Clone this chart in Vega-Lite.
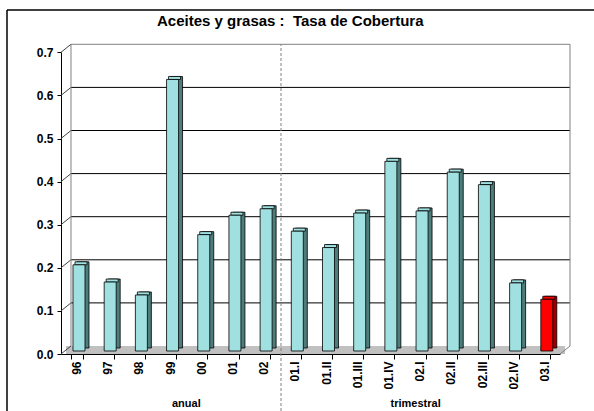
{
  "$schema": "https://vega.github.io/schema/vega-lite/v6.json",
  "autosize": {"type": "none"},
  "width": 587,
  "height": 401,
  "padding": {"left": 7, "top": 10, "right": 0, "bottom": 0},
  "background": "#ffffff",
  "config": {
    "view": {"stroke": null},
    "font": "Liberation Sans",
    "axis": {
      "labelFont": "Liberation Sans",
      "labelFontWeight": "bold",
      "labelFontSize": 12,
      "labelColor": "#000000",
      "domainColor": "#000000",
      "tickColor": "#000000",
      "domainWidth": 1,
      "tickWidth": 1,
      "grid": false,
      "title": null
    }
  },
  "title": {
    "text": "Aceites y grasas :\u00a0 Tasa de Cobertura",
    "anchor": "start",
    "frame": "group",
    "offset": -32,
    "baseline": "alphabetic",
    "dx": 150,
    "font": "Liberation Sans",
    "fontSize": 15,
    "fontWeight": "bold",
    "color": "#000000"
  },
  "datasets": {
    "bars": [
      {"cat": "96", "v": 0.20},
      {"cat": "97", "v": 0.16},
      {"cat": "98", "v": 0.13},
      {"cat": "99", "v": 0.63},
      {"cat": "00", "v": 0.27},
      {"cat": "01", "v": 0.315},
      {"cat": "02", "v": 0.33},
      {"cat": "01.I", "v": 0.278},
      {"cat": "01.II", "v": 0.24},
      {"cat": "01.III", "v": 0.32},
      {"cat": "01.IV", "v": 0.44},
      {"cat": "02.I", "v": 0.325},
      {"cat": "02.II", "v": 0.415},
      {"cat": "02.III", "v": 0.386},
      {"cat": "02.IV", "v": 0.158},
      {"cat": "03.I", "v": 0.12}
    ],
    "grid": [
      {"v": 0.1}, {"v": 0.2}, {"v": 0.3}, {"v": 0.4}, {"v": 0.5}, {"v": 0.6}
    ],
    "walls": [
      {"v": 0.0}, {"v": 0.1}, {"v": 0.2}, {"v": 0.3}, {"v": 0.4}, {"v": 0.5}, {"v": 0.6}, {"v": 0.7}
    ],
    "floor": [{"v": 0, "a": "96", "b": "03.I"}],
    "top": [{"v": 0.7, "a": "96", "b": "03.I"}],
    "span": [{"v": 0, "v2": 0.7, "a": "96", "b": "03.I", "s": "01.I"}],
    "groups1": [{"label": "anual", "cat": "00", "v": 0}],
    "groups2": [{"label": "trimestral", "cat": "02.I", "v": 0}],
    "frame": [
      {"edge": "top", "fx": 0, "fx2": 1, "fy": 0, "fy2": 0},
      {"edge": "left", "fx": 0, "fx2": 0, "fy": 0, "fy2": 1}
    ]
  },
  "layer": [
    {
      "encoding": {
        "x": {
          "field": "cat",
          "type": "nominal",
          "sort": null,
          "scale": {
            "domain": ["96", "97", "98", "99", "00", "01", "02", "01.I", "01.II", "01.III", "01.IV", "02.I", "02.II", "02.III", "02.IV", "03.I"],
            "range": [54, 553],
            "paddingInner": 0.615,
            "paddingOuter": 0.3075
          },
          "axis": {
            "orient": "bottom",
            "offset": -57,
            "labelAngle": 270,
            "tickBand": "extent",
            "tickSize": 5,
            "labelPadding": 2
          }
        },
        "y": {
          "field": "v",
          "type": "quantitative",
          "scale": {"domain": [0, 0.7], "range": [344, 42.3], "nice": false, "zero": true},
          "axis": {
            "orient": "left",
            "offset": -54,
            "values": [0, 0.1, 0.2, 0.3, 0.4, 0.5, 0.6, 0.7],
            "format": ".1f",
            "tickSize": 4,
            "labelPadding": 4
          }
        }
      },
      "layer": [
        {
          "data": {"name": "floor"},
          "mark": {"type": "rule", "color": "#c0c0c0", "strokeWidth": 8, "strokeCap": "butt", "xOffset": -10.6, "x2Offset": 20.6, "yOffset": -4},
          "encoding": {
            "x": {"field": "a", "type": "nominal"},
            "x2": {"field": "b"},
            "y": {"field": "v", "type": "quantitative"}
          }
        },
        {
          "data": {"name": "grid"},
          "mark": {"type": "rule", "color": "#000000", "strokeWidth": 1, "xOffset": -5.6, "x2Offset": 25.6, "yOffset": -8},
          "encoding": {
            "x": {"datum": "96"},
            "x2": {"datum": "03.I"},
            "y": {"field": "v", "type": "quantitative"}
          }
        },
        {
          "data": {"name": "walls"},
          "mark": {"type": "rule", "color": "#404040", "strokeWidth": 1, "xOffset": -15.6, "x2Offset": -5.6, "y2Offset": -8},
          "encoding": {
            "x": {"datum": "96"},
            "x2": {"datum": "96"},
            "y": {"field": "v", "type": "quantitative"},
            "y2": {"field": "v"}
          }
        },
        {
          "data": {"name": "top"},
          "mark": {"type": "rule", "color": "#808080", "strokeWidth": 1, "xOffset": -5.6, "x2Offset": 25.6, "yOffset": -8},
          "encoding": {
            "x": {"field": "a", "type": "nominal"},
            "x2": {"field": "b"},
            "y": {"field": "v", "type": "quantitative"}
          }
        },
        {
          "data": {"name": "span"},
          "mark": {"type": "rule", "color": "#808080", "strokeWidth": 1, "xOffset": -5.6, "yOffset": -8, "y2Offset": -8},
          "encoding": {
            "x": {"field": "a", "type": "nominal"},
            "y": {"field": "v", "type": "quantitative"},
            "y2": {"field": "v2"}
          }
        },
        {
          "data": {"name": "span"},
          "mark": {"type": "rule", "color": "#808080", "strokeWidth": 1, "xOffset": 25.6, "yOffset": -8, "y2Offset": -8},
          "encoding": {
            "x": {"field": "b", "type": "nominal"},
            "y": {"field": "v", "type": "quantitative"},
            "y2": {"field": "v2"}
          }
        },
        {
          "data": {"name": "floor"},
          "mark": {"type": "rule", "color": "#808080", "strokeWidth": 1, "xOffset": 15.6, "x2Offset": 25.6, "y2Offset": -8},
          "encoding": {
            "x": {"field": "b", "type": "nominal"},
            "x2": {"field": "b"},
            "y": {"field": "v", "type": "quantitative"},
            "y2": {"field": "v"}
          }
        },
        {
          "data": {"name": "span"},
          "mark": {"type": "rule", "color": "#808080", "strokeWidth": 1, "strokeDash": [3, 2], "xOffset": -13.9, "yOffset": 62, "y2Offset": -8},
          "encoding": {
            "x": {"field": "s", "type": "nominal"},
            "y": {"field": "v", "type": "quantitative"},
            "y2": {"field": "v2"}
          }
        },
        {
          "data": {"name": "bars"},
          "mark": {"type": "bar", "stroke": "#000000", "strokeWidth": 0.8, "xOffset": 6.4, "yOffset": -6, "y2Offset": -6},
          "encoding": {
            "color": {"condition": {"test": "datum.cat === '03.I'", "value": "#9a0000"}, "value": "#4d7d7b"}
          }
        },
        {
          "data": {"name": "bars"},
          "mark": {"type": "bar", "stroke": "#000000", "strokeWidth": 0.8, "xOffset": 4.4, "yOffset": -6, "y2Offset": -3},
          "encoding": {
            "y2": {"field": "v"},
            "color": {"condition": {"test": "datum.cat === '03.I'", "value": "#ff0000"}, "value": "#a0e0e0"}
          }
        },
        {
          "data": {"name": "bars"},
          "mark": {"type": "bar", "stroke": "#000000", "strokeWidth": 0.8, "xOffset": 2.4, "yOffset": -3, "y2Offset": -3},
          "encoding": {
            "color": {"condition": {"test": "datum.cat === '03.I'", "value": "#ff0000"}, "value": "#a0e0e0"}
          }
        },
        {
          "data": {"name": "groups1"},
          "mark": {"type": "text", "font": "Liberation Sans", "fontWeight": "bold", "fontSize": 11, "color": "#000000", "baseline": "middle", "dx": -15, "dy": 50},
          "encoding": {
            "text": {"field": "label"}
          }
        },
        {
          "data": {"name": "groups2"},
          "mark": {"type": "text", "font": "Liberation Sans", "fontWeight": "bold", "fontSize": 11, "color": "#000000", "baseline": "middle", "dx": -4, "dy": 50},
          "encoding": {
            "text": {"field": "label"}
          }
        }
      ]
    },
    {
      "data": {"name": "frame"},
      "mark": {"type": "rule", "color": "#000000", "strokeWidth": 1.5},
      "encoding": {
        "x": {"field": "fx", "type": "quantitative", "scale": {"domain": [0, 1], "range": [0, 600]}, "axis": null},
        "x2": {"field": "fx2"},
        "y": {"field": "fy", "type": "quantitative", "scale": {"domain": [0, 1], "range": [0, 420]}, "axis": null},
        "y2": {"field": "fy2"}
      }
    }
  ],
  "resolve": {
    "scale": {"x": "independent", "y": "independent"},
    "axis": {"x": "independent", "y": "independent"}
  }
}
